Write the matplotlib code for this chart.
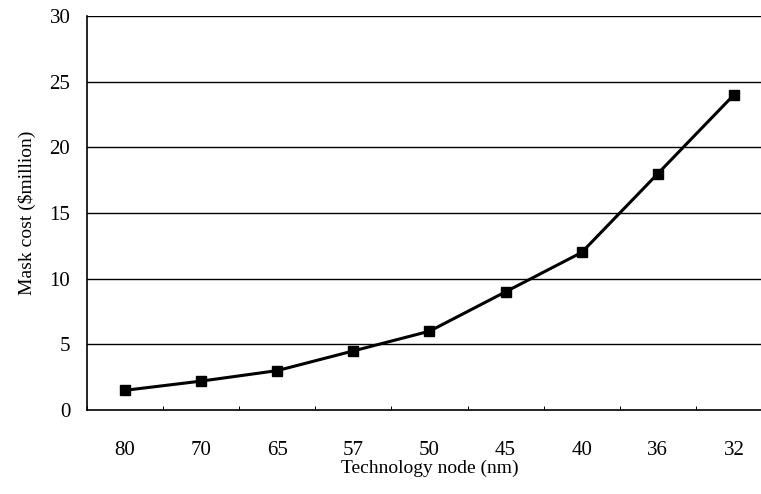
import numpy as np
import matplotlib.pyplot as plt

# technology nodes and mask cost
nodes = ['80', '70', '65', '57', '50', '45', '40', '36', '32']
cost = [1.5, 2.2, 3.0, 4.5, 6.0, 9.0, 12.0, 18.0, 24.0]
yticks = [0, 5, 10, 15, 20, 25, 30]

plt.rcParams['font.family'] = ['Liberation Serif', 'DejaVu Serif']

fig = plt.figure(figsize=(7.61, 4.94), dpi=100)
ax = fig.add_axes([87/761, 1 - 410/494, (772 - 87)/761, (410 - 16)/494])

x = np.arange(len(nodes))
ax.plot(x, cost, color='black', lw=2.2, marker='s', ms=7, mfc='black', mec='black')

ax.set_xlim(-0.5, len(nodes) - 0.5)
ax.set_ylim(0, 30)
ax.set_yticks(yticks)
for y in yticks[1:]:
    ax.axhline(y, color='black', lw=1.0, zorder=0)

ax.set_xticks(x)
ax.set_xticklabels(nodes)
ax.set_xticks(np.arange(len(nodes) + 1) - 0.5, minor=True)
ax.tick_params(axis='x', which='major', length=0, pad=22, labelsize=15)
ax.tick_params(axis='x', which='minor', length=3, direction='in', width=0.7)
ax.tick_params(axis='y', length=0, pad=12, labelsize=15)

for s in ['top', 'right']:
    ax.spines[s].set_visible(False)
ax.spines['left'].set_linewidth(1.2)
ax.spines['bottom'].set_linewidth(1.2)

ax.set_xlabel('Technology node (nm)', fontsize=14, labelpad=0)
ax.set_ylabel('Mask cost ($million)', fontsize=14, labelpad=10)

fig.savefig('out.png', dpi=100)
